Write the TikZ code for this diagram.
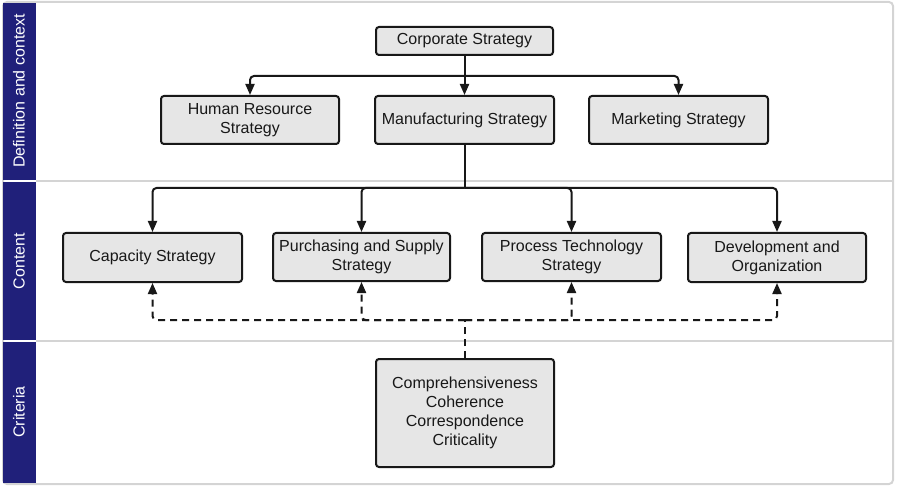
\documentclass[tikz,border=0pt]{standalone}
\usepackage{fontspec}
\setmainfont{Liberation Sans}
\usetikzlibrary{arrows.meta}
\definecolor{navy}{RGB}{32,32,122}
\definecolor{boxfill}{RGB}{230,230,230}
\definecolor{framegray}{RGB}{212,212,212}
\definecolor{ink}{RGB}{24,24,24}
\begin{document}
\begin{tikzpicture}[x=1pt,y=-1pt,
  box/.style={draw=ink, line width=2pt, fill=boxfill, rounded corners=3pt, align=center,
    font=\fontsize{16}{19}\selectfont, text=ink, inner sep=1pt},
  line/.style={draw=ink, line width=2pt, rounded corners=4pt},
  arr/.style={line, -{Triangle[length=11pt,width=9pt]}},
  darr/.style={arr, dash pattern=on 7pt off 5pt},
  dline/.style={line, dash pattern=on 7pt off 5pt},
  lane/.style={fill=navy},
  lanetext/.style={text=white, rotate=90, font=\fontsize{16}{19}\selectfont},
  divider/.style={draw=framegray, line width=2pt}]
\useasboundingbox (0,0) rectangle (899,486);
% frame
\draw[framegray, line width=2pt, rounded corners=4pt] (3,2) rectangle (893,484);
\draw[divider] (36,181) -- (893,181);
\draw[divider] (36,341) -- (893,341);
% lanes
\fill[lane] (3,3) rectangle (36,180);
\fill[lane] (3,182) rectangle (36,340);
\fill[lane] (3,342) rectangle (36,483);
\node[lanetext] (l1) at (19,91) {Definition and context};
\node[lanetext] (l2) at (19,261) {Content};
\node[lanetext] (l3) at (19,412) {Criteria};
% boxes
\node[box, minimum width=177pt, minimum height=28pt] (corp) at (464.5,41) {Corporate Strategy};
\node[box, minimum width=178pt, minimum height=48pt] (hr) at (250,120) {Human Resource\\Strategy};
\node[box, minimum width=179pt, minimum height=48pt] (mfg) at (464.5,120) {Manufacturing Strategy};
\node[box, minimum width=179pt, minimum height=48pt] (mkt) at (678.5,120) {Marketing Strategy};
\node[box, minimum width=179pt, minimum height=49pt] (cap) at (152.5,257.5) {Capacity Strategy};
\node[box, minimum width=177pt, minimum height=48pt] (pur) at (361.5,257) {Purchasing and Supply\\Strategy};
\node[box, minimum width=179pt, minimum height=48pt] (proc) at (571.5,257) {Process Technology\\Strategy};
\node[box, minimum width=178pt, minimum height=49pt] (dev) at (777,257.5) {Development and\\Organization};
\node[box, minimum width=178pt, minimum height=108pt] (crit) at (465,413) {Comprehensiveness\\Coherence\\Correspondence\\Criticality};
% junctions
\coordinate (j1) at (464.5,76);
\coordinate (j2) at (464.5,188);
\coordinate (j3) at (465,320);
% solid connectors
\draw[arr] (corp) -- (mfg);
\draw[arr] (j1) -| (hr);
\draw[arr] (j1) -| (mkt);
\draw[line] (mfg) -- (j2);
\draw[arr] (j2) -| (cap);
\draw[arr] (j2) -| (pur);
\draw[arr] (j2) -| (proc);
\draw[arr] (j2) -| (dev);
% dashed connectors
\draw[dline] (crit) -- (j3);
\draw[darr] (j3) -| (cap);
\draw[darr] (j3) -| (pur);
\draw[darr] (j3) -| (proc);
\draw[darr] (j3) -| (dev);
\end{tikzpicture}
\end{document}
